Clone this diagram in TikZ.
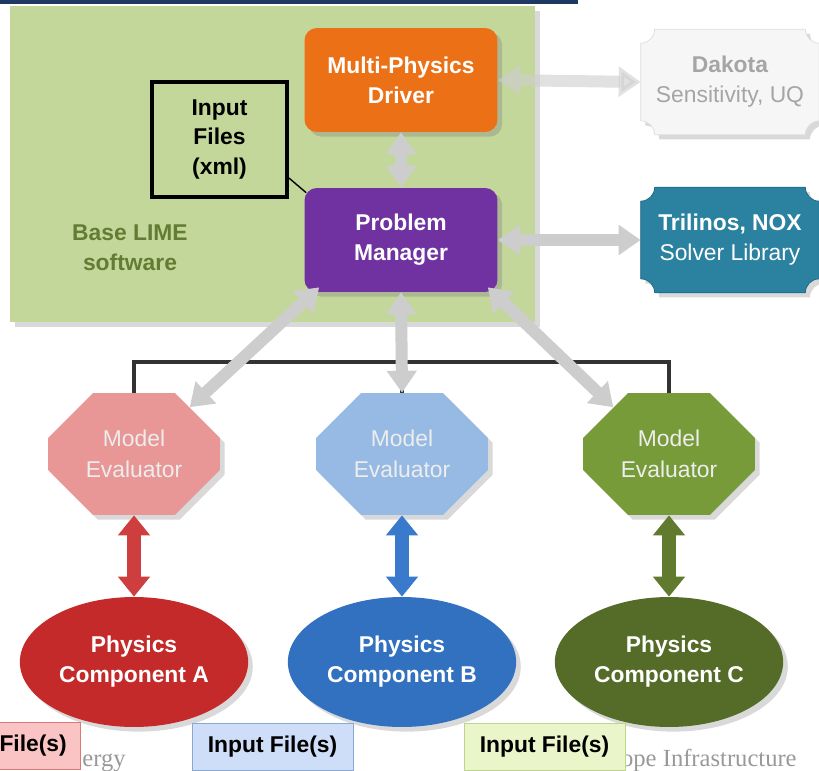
\documentclass[tikz,border=0pt]{standalone}
\usepackage{fontspec}
\setmainfont{Liberation Sans}
\newfontfamily\footserif{Liberation Serif}
\usetikzlibrary{shapes.geometric,shapes.misc,arrows.meta,shadows,backgrounds}

\definecolor{titlebar}{RGB}{31,56,100}
\definecolor{limebg}{RGB}{196,215,155}
\definecolor{limetext}{RGB}{98,124,52}
\definecolor{driver}{RGB}{236,112,22}
\definecolor{manager}{RGB}{112,50,160}
\definecolor{dakfill}{RGB}{246,246,246}
\definecolor{dakline}{RGB}{222,222,222}
\definecolor{daktext}{RGB}{165,165,165}
\definecolor{trifill}{RGB}{42,130,160}
\definecolor{triline}{RGB}{30,105,130}
\definecolor{evala}{RGB}{232,150,150}
\definecolor{evalb}{RGB}{150,186,228}
\definecolor{evalc}{RGB}{120,155,58}
\definecolor{physa}{RGB}{196,42,42}
\definecolor{physb}{RGB}{50,112,192}
\definecolor{physc}{RGB}{84,108,40}
\definecolor{arra}{RGB}{206,62,62}
\definecolor{arrb}{RGB}{58,122,204}
\definecolor{arrc}{RGB}{96,122,46}
\definecolor{fila}{RGB}{250,196,196}
\definecolor{filaline}{RGB}{222,120,120}
\definecolor{filb}{RGB}{206,222,248}
\definecolor{filbline}{RGB}{140,168,210}
\definecolor{filc}{RGB}{234,246,202}
\definecolor{filcline}{RGB}{190,214,140}
\definecolor{fatgray}{RGB}{205,205,205}

% plaque with cut-in corners round a node
\newcommand{\plaque}[3]{%
  \path[fill=#2, draw=#3, drop shadow={opacity=.3}]
    ([yshift=0.28cm]#1.south west) -- ([yshift=-0.28cm]#1.north west)
    arc[start angle=270, end angle=360, radius=0.28cm]
    -- ([xshift=-0.28cm]#1.north east)
    arc[start angle=180, end angle=270, radius=0.28cm]
    -- ([yshift=0.28cm]#1.south east)
    arc[start angle=90, end angle=180, radius=0.28cm]
    -- ([xshift=0.28cm]#1.south west)
    arc[start angle=0, end angle=90, radius=0.28cm] -- cycle;}

\begin{document}
\begin{tikzpicture}[x=0.02cm, y=-0.02cm,
  every node/.style={font=\fontsize{13}{17}\selectfont, align=center},
  bold/.style={font=\fontsize{13}{17}\selectfont\bfseries},
  box/.style={bold, rounded corners=7pt, minimum width=3.86cm, minimum height=2.08cm,
    text=white, drop shadow={opacity=.35}},
  ext/.style={minimum width=3.56cm, minimum height=2.1cm},
  evalbox/.style={chamfered rectangle, chamfered rectangle xsep=0.6cm,
    chamfered rectangle ysep=0.3cm, minimum width=3.44cm, minimum height=2.44cm,
    text=white!93!black, font=\fontsize{13}{18}\selectfont, drop shadow={opacity=.3}},
  phys/.style={ellipse, bold, minimum width=4.28cm, minimum height=2.6cm,
    text=white, drop shadow={opacity=.3}},
  infile/.style={bold, draw, text=black, minimum height=0.94cm},
  footer/.style={inner sep=0pt, text=gray!80, font=\footserif\fontsize{14}{16}\selectfont},
  fat/.style={fatgray, line width=0.24cm,
    {Triangle[length=0.44cm, width=0.58cm]}-{Triangle[length=0.44cm, width=0.58cm]}},
  colarrow/.style={line width=0.28cm,
    {Triangle[length=0.4cm, width=0.62cm]}-{Triangle[length=0.4cm, width=0.62cm]}},
  bracket/.style={line width=0.08cm, black!80}
]
\useasboundingbox (0,0) rectangle (819,771);
\fill[titlebar] (0,0) rectangle (578,4);
\fill[limebg, drop shadow={opacity=.3}] (10,6) rectangle (535,322);
\node[bold, text=limetext] (lime) at (130,248) {Base LIME\\software};

\node[box, fill=driver] (mpd) at (401,80) {Multi-Physics\\Driver};
\node[box, fill=manager] (pm) at (401,240) {Problem\\Manager};
\node[bold, draw, line width=2.2pt, minimum width=2.7cm, minimum height=2.3cm] (xml) at (219.5,139.5) {Input\\Files\\(xml)};
\draw[thick] ([yshift=-0.77cm]xml.east) -- ([shift={(0.04cm,-0.1cm)}]pm.north west);

\node[ext, text=daktext] (dak) at (730,82) {\textbf{Dakota}\\Sensitivity, UQ};
\node[ext, text=white] (tri) at (730,240) {\textbf{Trilinos, NOX}\\Solver Library};

\node[evalbox, fill=evala] (mea) at (134,454) {Model\\Evaluator};
\node[evalbox, fill=evalb] (meb) at (402,454) {Model\\Evaluator};
\node[evalbox, fill=evalc] (mec) at (669,454) {Model\\Evaluator};

\node[phys, fill=physa] (pca) at (134,662) {Physics\\Component A};
\node[phys, fill=physb] (pcb) at (402,662) {Physics\\Component B};
\node[phys, fill=physc] (pcc) at (669,662) {Physics\\Component C};

\begin{scope}[on background layer]
\plaque{dak}{dakfill}{dakline}
\plaque{tri}{trifill}{triline}
\draw[bracket] (mea.north) |- ([yshift=0.62cm]meb.north) -| (mec.north);
\draw[bracket] (meb.north) -- ++(0,-31);
\end{scope}

\node[footer, anchor=base west] (fa) at (82,766) {ergy};
\node[footer, anchor=base east] (fb) at (797,766) {ope Infrastructure};
\node[infile, fill=fila, draw=filaline, minimum width=1.9cm, anchor=east] (ina) at (81,746) {File(s)};
\node[infile, fill=filb, draw=filbline, minimum width=3.22cm] (inb) at (272.5,747) {Input File(s)};
\node[infile, fill=filc, draw=filcline, minimum width=3.22cm] (inc) at (544.5,747) {Input File(s)};

\draw[fat, opacity=.6] (mpd.east) -- (dak.west);
\draw[fat] (pm.east) -- (tri.west);
\draw[fat] (mpd.south) -- (pm.north);
\draw[fat] ([shift={(0.3cm,0.1cm)}]pm.south west) -- (mea.40);
\draw[fat] (pm.south) -- (meb.north);
\draw[fat] ([shift={(-0.2cm,0.1cm)}]pm.south east) -- (mec.140);

\draw[colarrow, arra] (mea.south) -- (pca.north);
\draw[colarrow, arrb] (meb.south) -- (pcb.north);
\draw[colarrow, arrc] (mec.south) -- (pcc.north);
\end{tikzpicture}
\end{document}
